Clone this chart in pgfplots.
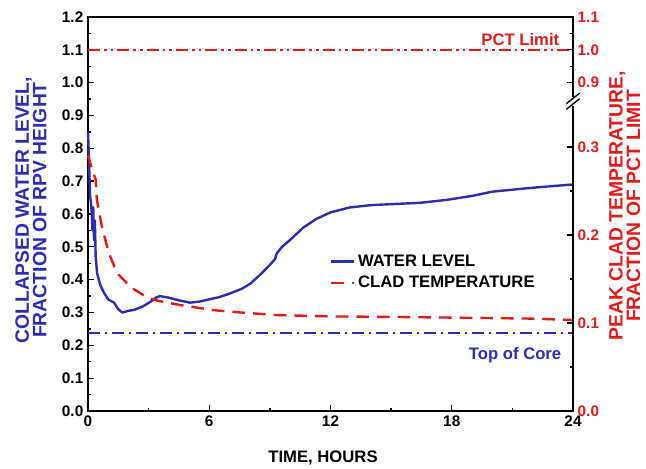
\documentclass[border=0pt]{standalone}
\usepackage{pgfplots}
\pgfplotsset{compat=1.18}
\usepackage{fontspec}
\setmainfont{Liberation Sans}
\definecolor{wblue}{RGB}{45,45,175}
\definecolor{cred}{RGB}{222,28,28}
\begin{document}
\begin{tikzpicture}[x=1pt,y=1pt]
\begin{axis}[
  at={(0,0)}, anchor=south west,
  scale only axis, width=363.75pt, height=295.5pt,
  xmin=0, xmax=24, ymin=0, ymax=1.2,
  axis line style={line width=1.1pt},
  xtick={0,6,12,18,24}, minor xtick={3,9,15,21},
  ytick={0,0.1,...,1.21}, minor ytick={0.05,0.15,...,1.16},
  tick align=inside, xtick pos=bottom, ytick pos=left,
  major tick length=4.5pt, minor tick length=2.6pt,
  every tick/.style={black, line width=1pt},
  /pgf/number format/assume math mode=true,
  /pgf/number format/fixed, /pgf/number format/fixed zerofill,
  /pgf/number format/precision=1,
  yticklabel style={font=\fontsize{11.5}{13}\selectfont\bfseries},
  xticklabel style={font=\fontsize{11.5}{13}\selectfont\bfseries, /pgf/number format/precision=0, /pgf/number format/fixed zerofill=false},
  legend style={at={(axis description cs:0.499,0.352)}, anchor=west, draw=none, fill=none,
    font=\fontsize{12.5}{15}\selectfont\bfseries, inner sep=0pt, row sep=2pt,
    nodes={inner sep=2pt}},
  legend cell align=left,
  clip=false,
]
\addplot[wblue, line width=1.8pt, line join=round] coordinates {
(0,0.85)(0.03,0.80)(0.07,0.72)(0.1,0.66)(0.15,0.63)(0.19,0.60)(0.22,0.55)(0.26,0.62)(0.30,0.52)(0.34,0.58)(0.38,0.47)(0.45,0.42)(0.6,0.385)(0.79,0.36)(1.0,0.34)(1.29,0.33)(1.5,0.31)(1.7,0.30)(2.0,0.305)(2.28,0.308)(2.7,0.318)(3.1,0.333)(3.35,0.345)(3.56,0.35)(4.0,0.345)(4.5,0.337)(5.05,0.33)(5.5,0.333)(6.0,0.34)(6.5,0.347)(7.03,0.358)(7.6,0.372)(8.06,0.389)(8.6,0.42)(9.0,0.445)(9.25,0.462)(9.34,0.48)(9.6,0.50)(10.0,0.521)(10.64,0.558)(11.3,0.585)(12.0,0.605)(12.96,0.62)(14,0.627)(15,0.63)(16.43,0.634)(17.75,0.643)(19,0.655)(20,0.668)(22,0.68)(24,0.69)
};
\addlegendentry{WATER LEVEL}
% clad temperature, fraction of PCT limit (right axis: 0.1 -> 0.268 on the left scale)
\addplot[cred, line width=1.8pt, dash pattern=on 9.5pt off 6pt] table[x=t, y expr=\thisrow{y}*2.68] {
t y
0 0.291
0.2 0.275
0.38 0.263
0.44 0.240
0.69 0.209
1.04 0.179
1.43 0.157
2.1 0.141
2.92 0.129
3.5 0.125
4.55 0.1205
6.2 0.1146
7.52 0.112
9.35 0.109
12 0.1075
16 0.1067
20 0.1056
22 0.1050
24 0.1034
};
\addlegendentry{CLAD TEMPERATURE}
\addplot[wblue, line width=1.6pt, dash pattern=on 9pt off 3.5pt on 2pt off 3.5pt, forget plot] coordinates {(0,0.237)(24,0.237)};
\addplot[cred, line width=1.6pt, dash pattern=on 9pt off 3pt on 2pt off 3pt on 2pt off 3pt, forget plot] coordinates {(0,1.1)(24,1.1)};
\node[anchor=east, text=cred, font=\fontsize{12.5}{15}\selectfont\bfseries] at (axis cs:23.55,1.13) {PCT Limit};
\node[anchor=east, text=wblue, font=\fontsize{12.5}{15}\selectfont\bfseries] at (axis cs:23.65,0.171) {Top of Core};
\end{axis}
\begin{axis}[
  at={(0,0)}, anchor=south west,
  scale only axis, width=363.75pt, height=295.5pt,
  xmin=0, xmax=24, ymin=0, ymax=1.2,
  axis x line=none, axis y line*=right,
  axis line style={line width=1.1pt},
  ytick={0,0.268,0.536,0.804,1.0,1.1,1.2},
  yticklabels={0.0,0.1,0.2,0.3,0.9,1.0,1.1},
  minor ytick={0.134,0.402,0.67,1.05,1.15},
  tick align=inside,
  major tick length=4.5pt, minor tick length=2.6pt,
  every tick/.style={black, line width=1pt},
  yticklabel style={font=\fontsize{11.5}{13}\selectfont\bfseries, text=cred},
  clip=false,
]
\fill[white] ([xshift=-1pt]axis cs:24,0.93) rectangle ([xshift=1pt]axis cs:24,0.955);
\draw[black, line width=1pt] ([xshift=-5pt,yshift=-4pt]axis cs:24,0.935) -- ([xshift=5pt,yshift=4pt]axis cs:24,0.935);
\draw[black, line width=1pt] ([xshift=-5pt,yshift=-4pt]axis cs:24,0.952) -- ([xshift=5pt,yshift=4pt]axis cs:24,0.952);
\end{axis}
\node[rotate=90, align=center, text=wblue, font=\fontsize{14.5}{13.2}\selectfont\bfseries] at (-42.75pt,150.75pt) {COLLAPSED WATER LEVEL,\\FRACTION OF RPV HEIGHT};
\node[rotate=90, align=center, text=cred, font=\fontsize{14.5}{13.2}\selectfont\bfseries] at (402.5pt,153.75pt) {PEAK CLAD TEMPERATURE,\\FRACTION OF PCT LIMIT};
\node[font=\fontsize{12.5}{15}\selectfont\bfseries] at (176.25pt,-35.25pt) {TIME, HOURS};
\pgfresetboundingbox
\path (-66pt,-42.75pt) rectangle (418.5pt,308.25pt);
\end{tikzpicture}
\end{document}
